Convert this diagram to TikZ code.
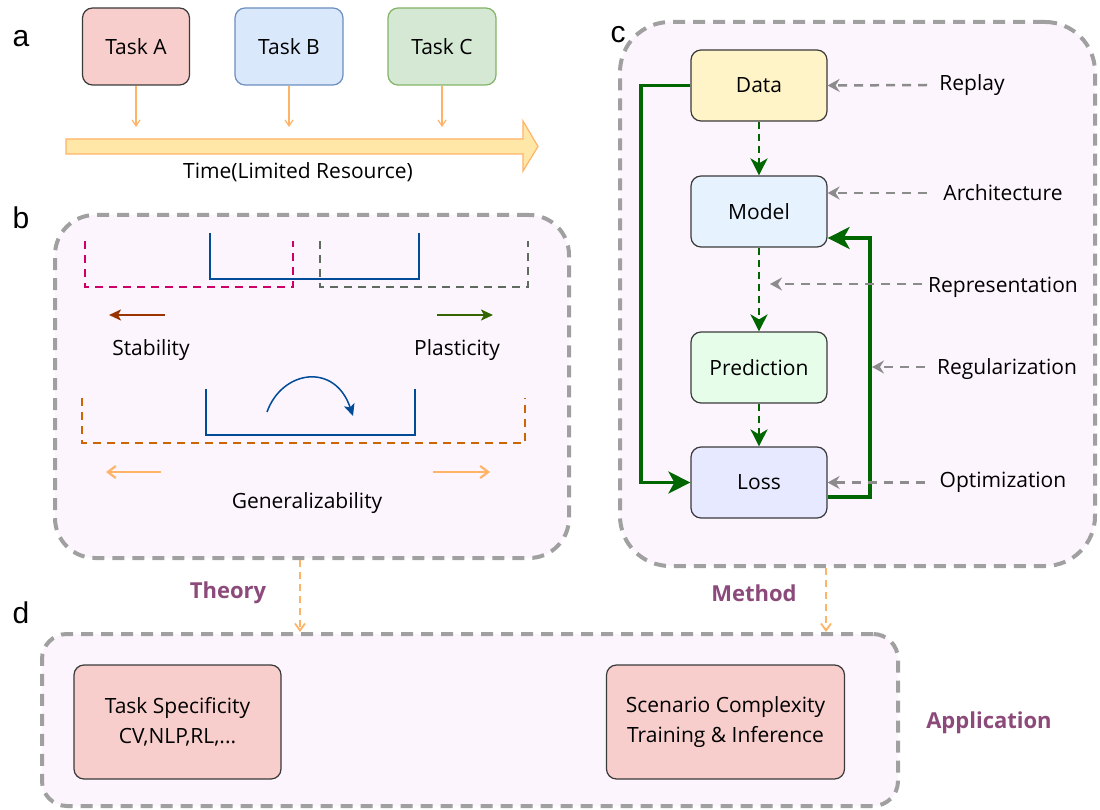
\documentclass[tikz,border=0pt]{standalone}
\usepackage{fontspec}
\setmainfont{Open Sans}
\newfontfamily\labelfont{Liberation Sans}
\usetikzlibrary{arrows.meta}
\definecolor{panelbg}{HTML}{FDF5FD}
\definecolor{panelgray}{HTML}{A0A0A0}
\definecolor{boxline}{HTML}{3A3A3A}
\definecolor{redfill}{HTML}{F8CECC}
\definecolor{bluefill}{HTML}{DAE8FC}
\definecolor{blueline}{HTML}{6C8EBF}
\definecolor{greenfill}{HTML}{D5E8D4}
\definecolor{greenline}{HTML}{82B366}
\definecolor{tarrow}{HTML}{FFB366}
\definecolor{bigfill}{HTML}{FFE7A8}
\definecolor{deepblue}{HTML}{004C99}
\definecolor{pinkd}{HTML}{CC0066}
\definecolor{grayd}{HTML}{5F6B5F}
\definecolor{orangd}{HTML}{CC6600}
\definecolor{stabc}{HTML}{993300}
\definecolor{plasc}{HTML}{336600}
\definecolor{loopgreen}{HTML}{006600}
\definecolor{arrgray}{HTML}{8C8C8C}
\definecolor{datafill}{HTML}{FFF4C8}
\definecolor{modelfill}{HTML}{E6F3FF}
\definecolor{predfill}{HTML}{E6FDEA}
\definecolor{lossfill}{HTML}{E6E9FF}
\definecolor{tagc}{HTML}{8C4A7A}
\begin{document}
\begin{tikzpicture}[x=1pt,y=-1pt,
  txt/.style={font=\fontsize{21}{25}\selectfont, inner sep=0pt},
  tag/.style={font=\fontsize{22}{26}\selectfont\bfseries, text=tagc, inner sep=0pt},
  lbl/.style={font=\labelfont\fontsize{30}{34}\selectfont, inner sep=0pt},
  panel/.style={draw=panelgray, line width=4pt, dash pattern=on 12pt off 8pt, fill=panelbg},
  box/.style={draw=boxline, line width=1.2pt, rounded corners=10pt, align=center,
    font=\fontsize{21}{30}\selectfont, inner sep=0pt},
  taskarrow/.style={draw=tarrow, line width=1.2pt, -{Straight Barb[length=6pt,width=8pt]}},
  uline/.style={draw=deepblue, line width=2.5pt},
  dline/.style={line width=2.5pt, dash pattern=on 8pt off 6pt},
  hintarrow/.style={line width=2.2pt},
  flowarrow/.style={draw=loopgreen, line width=2.5pt, dash pattern=on 7pt off 5pt, -{Stealth[length=17pt,width=17pt,inset=5pt]}},
  loop/.style={draw=loopgreen, line width=3.5pt, -{Stealth[length=22pt,width=22pt,inset=6pt]}},
  grayarrow/.style={draw=arrgray, line width=2.5pt, dash pattern=on 9pt off 7pt, -{Stealth[length=12pt,width=13pt,inset=4pt]}},
  linkarrow/.style={draw=tarrow, line width=1.8pt, dash pattern=on 7pt off 5pt, -{Straight Barb[length=7pt,width=10pt]}}]
\useasboundingbox (0,0) rectangle (1100,810);

% ---------- panel a ----------
\node[lbl] (la) at (21,39) {a};
\node[box, fill=redfill, minimum width=107pt, minimum height=77pt] (ta) at (136,46.5) {Task A};
\node[box, fill=bluefill, draw=blueline, minimum width=108pt, minimum height=77pt] (tb) at (289,46.5) {Task B};
\node[box, fill=greenfill, draw=greenline, minimum width=108pt, minimum height=77pt] (tc) at (442,46.5) {Task C};
\draw[draw=tarrow, fill=bigfill, line width=1.2pt, line join=miter]
  (66,139) -- (523,139) -- (523,121) -- (538,146.5) -- (523,171) -- (523,154) -- (66,154) -- cycle;
\coordinate (ea) at (136,127);
\coordinate (eb) at (289,127);
\coordinate (ec) at (442,127);
\draw[taskarrow] (ta.south) -- (ea);
\draw[taskarrow] (tb.south) -- (eb);
\draw[taskarrow] (tc.south) -- (ec);
\node[txt] (time) at (298,172) {Time(Limited Resource)};

% ---------- panel b ----------
\node[lbl] (lb) at (21,218) {b};
\node[panel, rounded corners=40pt, minimum width=514pt, minimum height=343pt] (pb) at (312,386.5) {};
\draw[uline] (210,233) -- (210,279) -- (419,279) -- (419,233);
\draw[dline, draw=pinkd] (85,241) -- (85,287) -- (293,287) -- (293,241);
\draw[dline, draw=grayd] (320,241) -- (320,287) -- (528,287) -- (528,241);
\draw[uline] (210,279) -- (419,279);
\draw[hintarrow, draw=stabc, -{Stealth[length=12pt,width=11pt,inset=3pt]}] (165,315) -- (109,315);
\draw[hintarrow, draw=plasc, -{Stealth[length=12pt,width=11pt,inset=3pt]}] (437,315) -- (493,315);
\node[txt] (stab) at (151,350) {Stability};
\node[txt] (plas) at (457,350) {Plasticity};
\draw[uline] (206,389) -- (206,435) -- (415,435) -- (415,389);
\draw[draw=deepblue, line width=1.5pt, -{Stealth[length=12pt,width=11pt,inset=3pt]}]
  (267,412) .. controls (282,370) and (335,362) .. (353,416);
\draw[dline, draw=orangd] (82,398) -- (82,443) -- (525,443) -- (525,398);
\draw[hintarrow, draw=tarrow, -{Straight Barb[length=8pt,width=12pt]}] (161,472) -- (106,472);
\draw[hintarrow, draw=tarrow, -{Straight Barb[length=8pt,width=12pt]}] (433,472) -- (490,472);
\node[txt] (gen) at (307,503) {Generalizability};

% ---------- panel c ----------
\node[lbl] (lc) at (618,35) {c};
\node[panel, rounded corners=50pt, minimum width=475pt, minimum height=544pt] (pc) at (857.5,294) {};
\node[box, fill=datafill, minimum width=136pt, minimum height=71pt] (data) at (759,85.5) {Data};
\node[box, fill=modelfill, minimum width=136pt, minimum height=71pt] (model) at (759,211.5) {Model};
\node[box, fill=predfill, minimum width=136pt, minimum height=71pt] (pred) at (759,367.5) {Prediction};
\node[box, fill=lossfill, minimum width=136pt, minimum height=71pt] (loss) at (759,482.5) {Loss};
\draw[flowarrow] (data.south) -- (model.north);
\draw[flowarrow] (model.south) -- (pred.north);
\draw[flowarrow] (pred.south) -- (loss.north);
\coordinate (lx) at (641,0);
\coordinate (rx) at (870,0);
\draw[loop] (data.west) -- (data.west -| lx) |- (loss.west);
\draw[loop] ([yshift=-14.5pt]loss.east) -- ([yshift=-14.5pt]loss.east -| rx) |- ([yshift=-26.5pt]model.east);
\node[txt] (replay) at (972,85) {Replay};
\node[txt] (arch) at (1003,193) {Architecture};
\node[txt] (repr) at (1003,287) {Representation};
\node[txt] (regu) at (1007,369) {Regularization};
\node[txt] (opti) at (1003,482) {Optimization};
\coordinate (s1) at (927,85);
\coordinate (s2) at (927,193);
\coordinate (s3) at (922,284);
\coordinate (e3) at (770,284);
\coordinate (s4) at (925,367);
\coordinate (e4) at (872,367);
\coordinate (s5) at (925,482.5);
\draw[grayarrow] (s1) -- (data.east);
\draw[grayarrow] (s2) -- (model.east |- s2);
\draw[grayarrow] (s3) -- (e3);
\draw[grayarrow] (s4) -- (e4);
\draw[grayarrow] (s5) -- (loss.east);

% ---------- panel d ----------
\node[lbl] (ld) at (21,613) {d};
\node[panel, rounded corners=25pt, minimum width=856pt, minimum height=172pt] (pd) at (470,720) {};
\node[box, fill=redfill, minimum width=207pt, minimum height=114pt] (spec) at (177.5,722) {Task Specificity\\CV,NLP,RL,...};
\node[box, fill=redfill, minimum width=238pt, minimum height=114pt] (scen) at (725.5,722) {Scenario Complexity\\Training \& Inference};
\node[tag] (theory) at (228,593) {Theory};
\node[tag] (method) at (754,593) {Method};
\node[tag] (appl) at (989,723) {Application};
\coordinate (tx) at (300,0);
\coordinate (mx) at (826,0);
\draw[linkarrow] (pb.south -| tx) -- (pd.north -| tx);
\draw[linkarrow] (pc.south -| mx) -- (pd.north -| mx);
\end{tikzpicture}
\end{document}
